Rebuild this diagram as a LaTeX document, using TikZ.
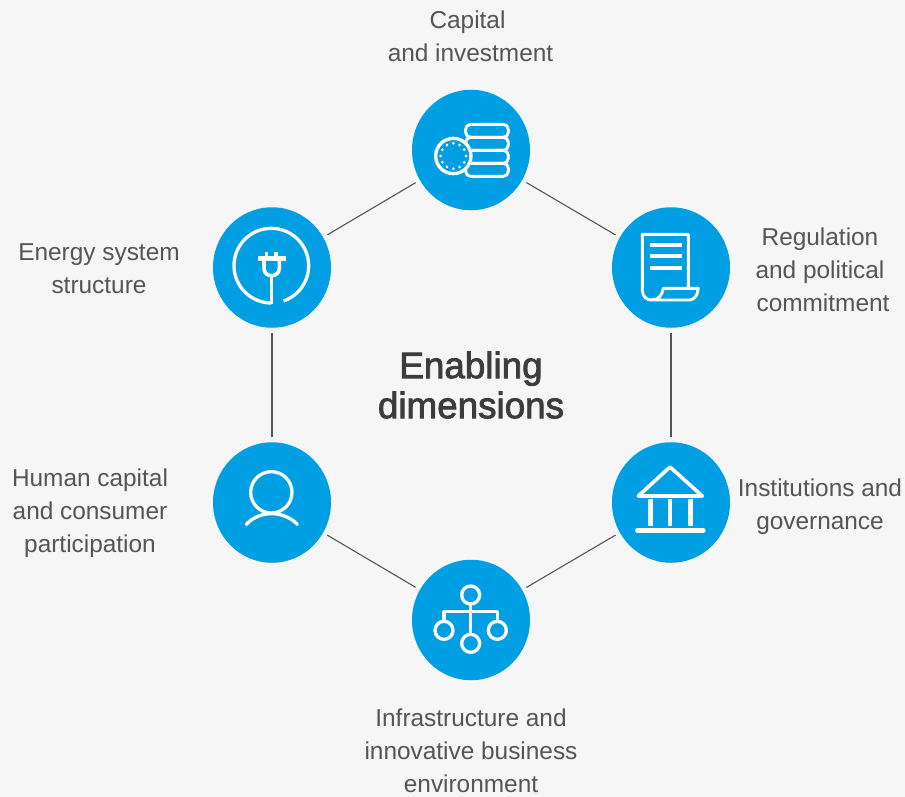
\documentclass[tikz,border=0pt]{standalone}
\usepackage{fontspec}
\setmainfont{Liberation Sans}
\newfontfamily\ttlfont[FakeBold=2.2]{Liberation Sans}
\usetikzlibrary{shapes.geometric}
\definecolor{bg}{HTML}{F6F6F6}
\definecolor{dotblue}{HTML}{009FE3}
\definecolor{txt}{HTML}{555555}
\definecolor{ttl}{HTML}{3C3C3C}
\tikzset{
  hub/.style={ellipse,fill=dotblue,minimum width=118pt,minimum height=120.5pt,inner sep=0pt,outer sep=5pt},
  lab/.style={text=txt,align=center,inner sep=0pt,font=\fontsize{24.4}{33}\selectfont},
  link/.style={draw=txt,line width=1.1pt},
  ico/.style={draw=white,line width=3.3pt,line join=round},
  icothin/.style={draw=white,line width=2.9pt,line join=round},
  icobar/.style={draw=white,line width=4pt}
}
\begin{document}
\begin{tikzpicture}[x=1pt,y=-1pt]
\useasboundingbox (0,0) rectangle (905,797);
\fill[bg] (0,0) rectangle (905,797);
% hubs
\node[hub] (cap) at (471,150) {};
\node[hub] (reg) at (671,267.5) {};
\node[hub] (ins) at (671,502.5) {};
\node[hub] (inf) at (471,620) {};
\node[hub] (hum) at (272,502.5) {};
\node[hub] (ene) at (272,267.5) {};
% connectors
\draw[link] (cap) -- (reg);
\draw[link] (reg) -- (ins);
\draw[link] (ins) -- (inf);
\draw[link] (inf) -- (hum);
\draw[link] (hum) -- (ene);
\draw[link] (ene) -- (cap);
% labels
\node[lab] (tcap) at (470.5,36) {Capital\rule{6pt}{0pt}\\and investment};
\node[lab] (treg) at (823,270) {Regulation\rule{6pt}{0pt}\\and political\rule{6pt}{0pt}\\commitment};
\node[lab] (tins) at (820,507) {Institutions and\\governance};
\node[lab] (tinf) at (471,751) {Infrastructure and\\innovative business\\environment};
\node[lab] (thum) at (90,513.5) {Human capital\\and consumer\\participation};
\node[lab] (tene) at (99,268.5) {Energy system\\structure};
\node[text=ttl,align=center,inner sep=0pt,font=\fontsize{36.8}{40}\ttlfont] (title) at (471,385) {Enabling\\dimensions};
% coins icon
\begin{scope}[shift={(400,80)},scale=1/3]
  \foreach \yy in {133,172,211,250}
    \draw[icothin,rounded corners=5pt] (197,\yy) rectangle (325,\yy+39);
  \fill[dotblue] (160,228) circle (58);
  \draw[ico] (160,228) circle (53);
  \foreach \a in {0,30,...,330}
    \fill[white] ({160+38*cos(\a)},{228+38*sin(\a)}) circle (4.5);
\end{scope}
% plug icon
\begin{scope}[shift={(200,195)},scale=1/3]
  \draw[ico] plot[domain=90:431,samples=80] ({214+112*cos(\x)},{212+112*sin(\x)});
  \draw[ico] (214,245) -- (214,328);
  \draw[icobar,line width=5pt] (175,191) -- (258,191);
  \draw[ico] (200,172) -- (200,185) (228,172) -- (228,185);
  \draw[ico,line width=3.6pt] (192,195) -- (192,220) .. controls (192,235) and (203,242) .. (214,242) .. controls (225,242) and (238,235) .. (238,220) -- (238,195);
\end{scope}
% document icon
\begin{scope}[shift={(600,195)},scale=1/3]
  \draw[icothin] (265,280) -- (265,118) -- (127,118) -- (127,285) .. controls (127,305) and (140,315) .. (155,315) -- (270,315) .. controls (285,312) and (293,300) .. (295,280) -- (190,280) .. controls (187,300) and (175,315) .. (155,315);
  \draw[icobar] (150,150) -- (245,150) (150,184) -- (245,184) (150,218) -- (245,218);
\end{scope}
% temple icon
\begin{scope}[shift={(600,435)},scale=1/3]
  \draw[ico,line width=3.6pt] (115,183) -- (210,96) -- (307,183) -- cycle;
  \draw[icobar,line width=4.8pt] (151,192) -- (151,273) (210,192) -- (210,273) (271,192) -- (271,273);
  \draw[icobar,line width=4.6pt,line cap=round] (112,286) -- (310,286);
\end{scope}
% org chart icon
\begin{scope}[shift={(400,555)},scale=1/3]
  \draw[ico] (212,120) circle (27) (132,226) circle (27) (212,265) circle (27) (292,226) circle (27);
  \draw[ico] (212,147) -- (212,238) (132,199) -- (132,170) -- (292,170) -- (292,199);
\end{scope}
% person icon
\begin{scope}[shift={(200,435)},scale=1/3]
  \draw[ico] (214,172) circle (62);
  \draw[ico,line cap=round] (139,268) .. controls (160,245) and (190,236) .. (214,236) .. controls (240,236) and (270,245) .. (292,268);
\end{scope}
\end{tikzpicture}
\end{document}
